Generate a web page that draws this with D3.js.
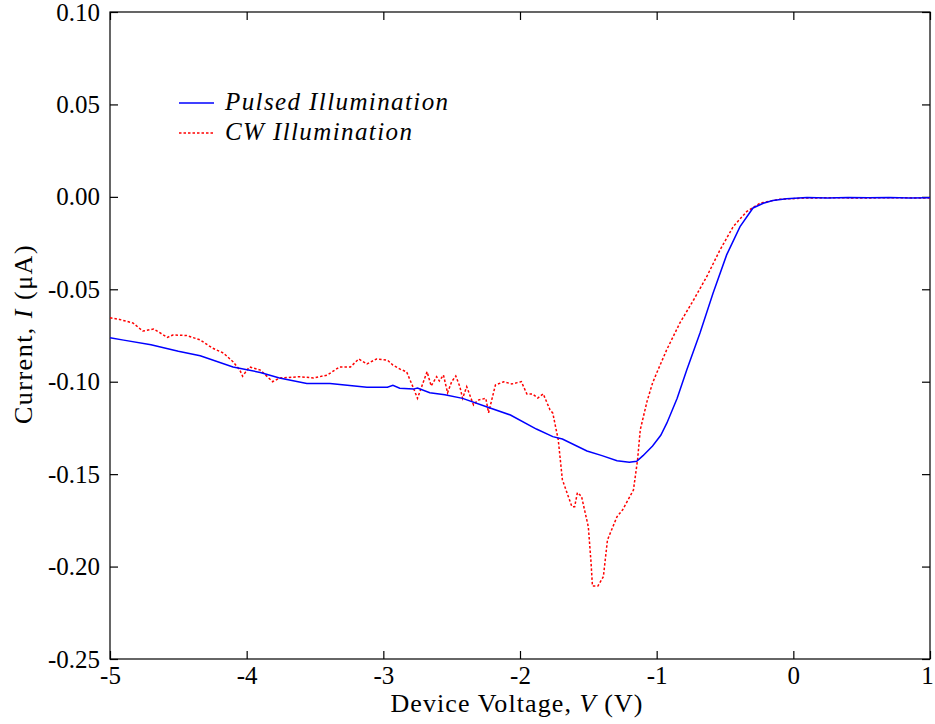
<!DOCTYPE html>
<html>
<head>
<meta charset="utf-8">
<script src="https://cdn.jsdelivr.net/npm/d3@7"></script>
<style>
  body { margin: 0; background: #fff; }
  text { font-family: "Liberation Serif", "DejaVu Serif", serif; fill: #000; }
</style>
</head>
<body>
<svg id="chart" width="935" height="724"></svg>
<script>
// values
var pulsedV = [-5.0, -4.9, -4.7, -4.5, -4.34, -4.1, -3.9, -3.76, -3.56, -3.39, -3.12, -2.97, -2.93, -2.88, -2.78, -2.75, -2.66, -2.55, -2.42, -2.24, -2.07, -1.88, -1.76, -1.69, -1.51, -1.4, -1.29, -1.2, -1.146, -1.1, -1.03, -0.97, -0.925, -0.85, -0.78, -0.683, -0.587, -0.488, -0.39, -0.295, -0.22, -0.15, -0.05, 0.1, 0.25, 0.4, 0.55, 0.7, 0.85, 1.0];
var pulsedI = [-0.0762, -0.0775, -0.080, -0.0835, -0.086, -0.092, -0.095, -0.098, -0.101, -0.101, -0.103, -0.103, -0.102, -0.1035, -0.104, -0.1034, -0.106, -0.107, -0.109, -0.1137, -0.118, -0.1256, -0.1297, -0.131, -0.1375, -0.140, -0.1427, -0.1435, -0.143, -0.140, -0.1348, -0.129, -0.1223, -0.109, -0.0937, -0.0737, -0.052, -0.0314, -0.0161, -0.006, -0.0035, -0.002, -0.001, -0.0004, -0.0006, -0.0003, -0.0005, -0.0004, -0.0006, -0.0005];

var cwV = [-5.0, -4.93, -4.83, -4.76, -4.68, -4.58, -4.54, -4.44, -4.34, -4.25, -4.17, -4.1, -4.05, -4.03, -3.98, -3.9, -3.81, -3.76, -3.61, -3.51, -3.41, -3.32, -3.24, -3.18, -3.12, -3.05, -2.97, -2.93, -2.87, -2.83, -2.78, -2.75, -2.71, -2.68, -2.65, -2.61, -2.59, -2.56, -2.53, -2.5, -2.47, -2.44, -2.42, -2.39, -2.34, -2.31, -2.25, -2.23, -2.18, -2.12, -2.06, -2.02, -1.99, -1.95, -1.91, -1.87, -1.83, -1.78, -1.76, -1.72, -1.69, -1.62, -1.6, -1.58, -1.55, -1.5, -1.48, -1.47, -1.43, -1.39, -1.36, -1.29, -1.25, -1.17, -1.14, -1.12, -1.07, -1.03, -1.0, -0.927, -0.83, -0.73, -0.634, -0.537, -0.44, -0.342, -0.244, -0.1, 0.1, 0.3, 0.5, 0.7, 1.0];
var cwI = [-0.0654, -0.0663, -0.0683, -0.0726, -0.0715, -0.076, -0.0747, -0.075, -0.0774, -0.0818, -0.0845, -0.0892, -0.0937, -0.097, -0.092, -0.0937, -0.100, -0.098, -0.0973, -0.098, -0.0964, -0.092, -0.092, -0.0877, -0.0904, -0.0877, -0.0883, -0.091, -0.0935, -0.0946, -0.1034, -0.109, -0.1007, -0.0946, -0.1023, -0.0973, -0.0996, -0.0964, -0.106, -0.100, -0.0969, -0.1027, -0.109, -0.1027, -0.1126, -0.110, -0.109, -0.1168, -0.1018, -0.100, -0.1012, -0.1005, -0.100, -0.1066, -0.1066, -0.1088, -0.1066, -0.1153, -0.117, -0.1315, -0.153, -0.1676, -0.1676, -0.160, -0.162, -0.1785, -0.198, -0.2105, -0.2105, -0.2055, -0.1856, -0.173, -0.1694, -0.1586, -0.1424, -0.126, -0.1105, -0.1007, -0.0953, -0.0828, -0.0682, -0.0558, -0.0432, -0.0288, -0.0161, -0.008, -0.0034, -0.0013, -0.0006, -0.0005, -0.0006, -0.0005, -0.0006];

var xTicks = [-5, -4, -3, -2, -1, 0, 1];
var yTicks = [0.10, 0.05, 0.00, -0.05, -0.10, -0.15, -0.20, -0.25];

var svg = d3.select("#chart");
var mLeft = 110, mRight = 930, mTop = 12, mBottom = 659;

var x = d3.scaleLinear().domain([-5, 1]).range([mLeft, mRight]);
var y = d3.scaleLinear().domain([-0.25, 0.10]).range([mBottom, mTop]);

var fmtY = function(d) { return d3.format(".2f")(d).replace("−", "-"); };
var fmtX = function(d) { return String(d); };

// frame
svg.append("rect")
    .attr("x", mLeft).attr("y", mTop)
    .attr("width", mRight - mLeft).attr("height", mBottom - mTop)
    .attr("fill", "none").attr("stroke", "#000").attr("stroke-width", 1.2);

// inward ticks, all four sides
var tk = 8;
var xAxisG = svg.append("g").attr("transform", "translate(0," + mBottom + ")")
    .call(d3.axisBottom(x).tickValues(xTicks).tickSize(-tk).tickPadding(7).tickFormat(fmtX))
    .call(function(g) { g.select(".domain").remove(); });
svg.append("g").attr("transform", "translate(0," + mTop + ")")
    .call(d3.axisTop(x).tickValues(xTicks).tickSize(-tk).tickFormat(""))
    .call(function(g) { g.select(".domain").remove(); });
svg.append("g").attr("transform", "translate(" + mLeft + ",0)")
    .call(d3.axisLeft(y).tickValues(yTicks).tickSize(-tk).tickPadding(10).tickFormat(fmtY))
    .call(function(g) { g.select(".domain").remove(); });
svg.append("g").attr("transform", "translate(" + mRight + ",0)")
    .call(d3.axisRight(y).tickValues(yTicks).tickSize(-tk).tickFormat(""))
    .call(function(g) { g.select(".domain").remove(); });

svg.selectAll(".tick line").attr("stroke", "#000").attr("stroke-width", 1.2);
svg.selectAll(".tick text")
    .style("font-family", "'Liberation Serif', 'DejaVu Serif', serif")
    .style("font-size", "25px").attr("fill", "#000");
// keep the last label inside the window
xAxisG.selectAll(".tick text").filter(function(d) { return d === 1; }).attr("dx", -3);

// curves
var line = d3.line().x(function(d) { return x(d[0]); }).y(function(d) { return y(d[1]); });

var cw = d3.zip(cwV, cwI);
var pulsed = d3.zip(pulsedV, pulsedI);

svg.append("path").datum(cw)
    .attr("d", line).attr("fill", "none")
    .attr("stroke", "#ff0000").attr("stroke-width", 1.5)
    .attr("stroke-dasharray", "2.5,2");

svg.append("path").datum(pulsed)
    .attr("d", line).attr("fill", "none")
    .attr("stroke", "#0000ff").attr("stroke-width", 1.5);

// legend
var legend = [
    { label: "Pulsed Illumination", color: "#0000ff", dash: null, y: 103 },
    { label: "CW Illumination", color: "#ff0000", dash: "2.5,2", y: 133 }
];
legend.forEach(function(l) {
    svg.append("line")
        .attr("x1", 179).attr("x2", 214).attr("y1", l.y).attr("y2", l.y)
        .attr("stroke", l.color).attr("stroke-width", 1.5)
        .attr("stroke-dasharray", l.dash);
    svg.append("text")
        .attr("x", 225).attr("y", l.y + 7)
        .style("font-size", "25px").style("font-style", "italic")
        .style("letter-spacing", "1.4px")
        .text(l.label);
});

// axis labels
var xl = svg.append("text")
    .attr("x", (mLeft + mRight) / 2 - 3).attr("y", 712)
    .attr("text-anchor", "middle").style("font-size", "26px")
    .style("letter-spacing", "1.1px");
xl.append("tspan").text("Device Voltage, ");
xl.append("tspan").style("font-style", "italic").text("V");
xl.append("tspan").text(" (V)");

var yl = svg.append("text")
    .attr("transform", "translate(32,334) rotate(-90)")
    .attr("text-anchor", "middle").style("font-size", "26px")
    .style("letter-spacing", "1.5px");
yl.append("tspan").text("Current, ");
yl.append("tspan").style("font-style", "italic").text("I");
yl.append("tspan").text(" (μA)");
</script>
</body>
</html>
